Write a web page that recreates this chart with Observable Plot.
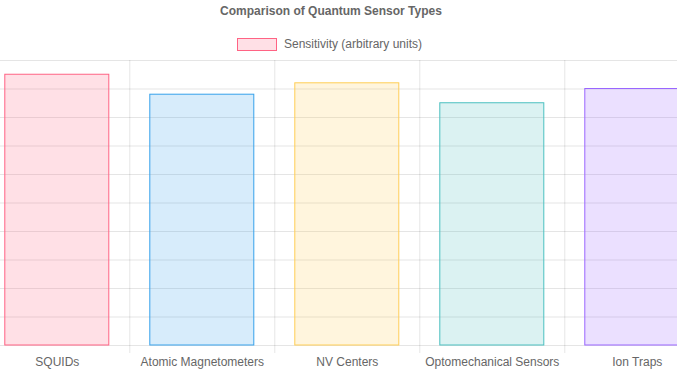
<!DOCTYPE html>
<html>
<head>
<meta charset="utf-8">
<script src="https://cdn.jsdelivr.net/npm/d3@7"></script>
<script src="https://cdn.jsdelivr.net/npm/@observablehq/plot@0.6"></script>
<style>
  html, body { margin: 0; padding: 0; background: #fff; }
  body { width: 677px; height: 381px; overflow: hidden; font-family: "Liberation Sans", Arial, Helvetica, sans-serif; }
  #wrap { position: relative; width: 677px; height: 381px; }
  #title { position: absolute; left: 0; top: 4px; width: 662px; text-align: center; font-size: 12px; line-height: 14px; font-weight: bold; color: #666; }
  #legend { position: absolute; left: 237px; top: 37px; height: 14px; display: flex; align-items: center; font-size: 12px; line-height: 14px; color: #666; white-space: nowrap; }
  #legend .box { width: 38px; height: 11px; border: 1px solid rgb(255,99,132); background: rgba(255,99,132,0.2); margin-right: 7px; }
  #chart { position: absolute; left: 0; top: 52px; }
</style>
</head>
<body>
<div id="wrap">
  <div id="title">Comparison of Quantum Sensor Types</div>
  <div id="legend"><span class="box"></span><span id="legendLabel"></span></div>
  <div id="chart"></div>
</div>
<script>
const titleText = "Comparison of Quantum Sensor Types";
const seriesName = "Sensitivity (arbitrary units)";
const categories = ["SQUIDs", "Atomic Magnetometers", "NV Centers", "Optomechanical Sensors", "Ion Traps"];
const values = [95, 88, 92, 85, 90];
const colors = ["rgb(255,99,132)", "rgb(54,162,235)", "rgb(255,206,86)", "rgb(75,192,192)", "rgb(153,102,255)"];
const yTicks = [0, 10, 20, 30, 40, 50, 60, 70, 80, 90, 100];

document.getElementById("title").textContent = titleText;
document.getElementById("legendLabel").textContent = seriesName;

const data = categories.map((c, i) => ({name: c, value: values[i]}));

const chart = Plot.plot({
  width: 677,
  height: 329,
  marginTop: 8,
  marginBottom: 36,
  marginLeft: 0,
  marginRight: 0,
  style: {fontFamily: "'Liberation Sans', Arial, Helvetica, sans-serif", fontSize: "12px", color: "#666", background: "transparent"},
  x: {domain: categories, range: [-15.7, 709.3], padding: 0, round: false, label: null},
  y: {domain: [0, 100], label: null},
  color: {domain: categories, range: colors},
  marks: [
    Plot.gridY(yTicks, {stroke: "#000", strokeOpacity: 0.1}),
    Plot.ruleX(categories, {x: d => d, dx: -72.5, y1: 100, y2: 0, insetBottom: -8, stroke: "#000", strokeOpacity: 0.1}),
    Plot.barY(data, {x: "name", y: "value", fill: "name", fillOpacity: 0.2, stroke: "name", strokeWidth: 1, insetLeft: 20.5, insetRight: 20.5}),
    Plot.axisX({tickSize: 0, tickPadding: 12, fill: "#666", fontSize: 12}),
    Plot.axisY({ticks: [], tickSize: 0})
  ]
});
document.getElementById("chart").appendChild(chart);
</script>
</body>
</html>
